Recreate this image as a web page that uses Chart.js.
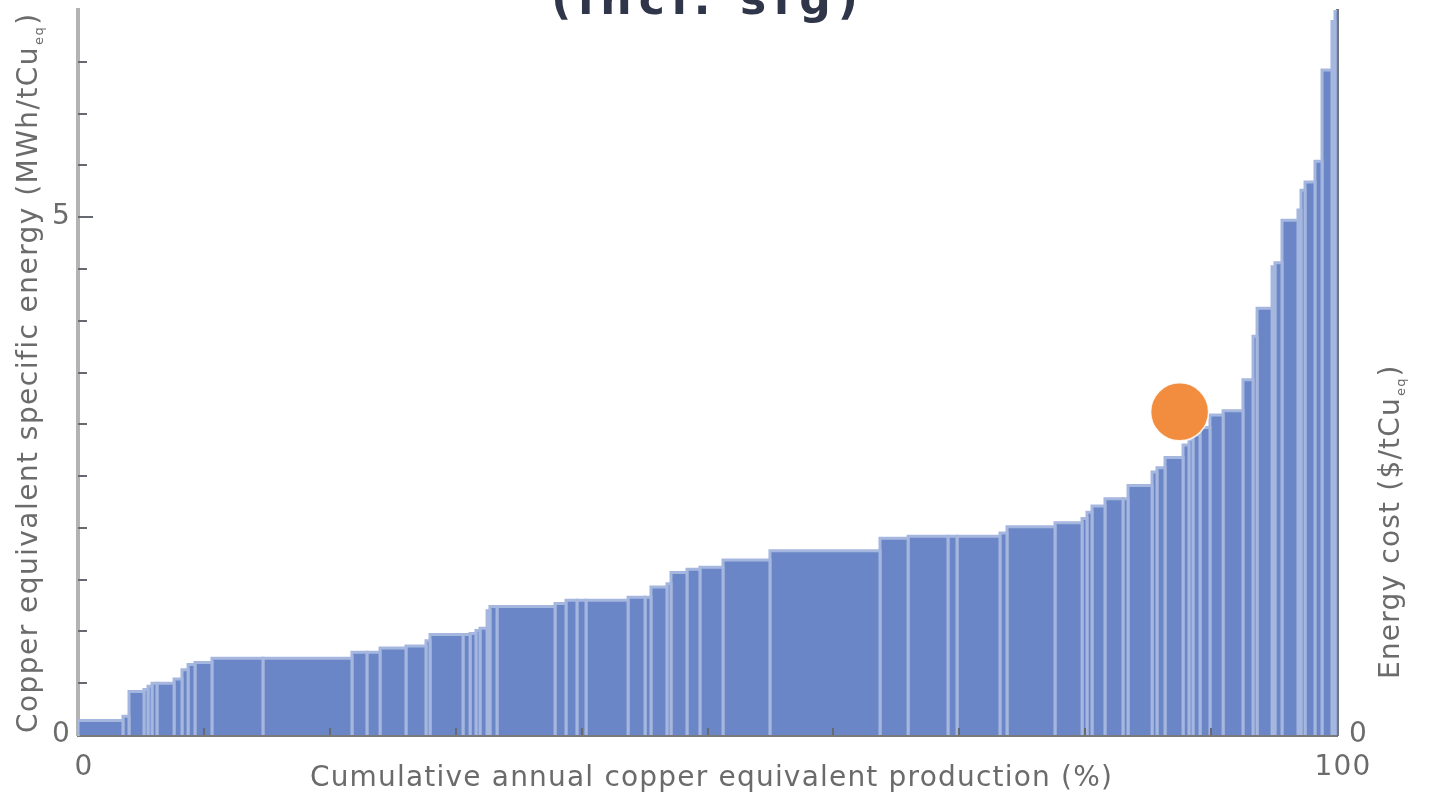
<!DOCTYPE html>
<html>
<head>
<meta charset="utf-8">
<script src="https://cdn.jsdelivr.net/npm/chart.js@4.4.1/dist/chart.umd.min.js"></script>
<style>
  html, body { margin: 0; padding: 0; background: #ffffff; overflow: hidden; }
  canvas { display: block; }
</style>
</head>
<body>
<canvas id="curve" width="1435" height="794"></canvas>
<script>
// Share of annual copper-equivalent production per operation (%), in merit order
const productionShare = [
  3.57, 0.48, 1.19, 0.32, 0.32, 0.39, 1.36, 0.63, 0.48, 0.55,
  1.35, 4.05, 7.07, 1.19, 1.04, 2.06, 1.59, 0.32, 2.62, 0.56,
  0.47, 0.32, 0.56, 0.23, 0.56, 4.61, 0.87, 0.87, 0.72, 3.34,
  1.35, 0.47, 1.27, 0.32, 1.27, 1.03, 1.83, 3.73, 8.74, 2.23,
  3.17, 0.72, 3.41, 0.56, 3.81, 2.15, 0.39, 0.40, 1.03, 1.43,
  0.40, 1.91, 0.39, 0.64, 1.43, 0.47, 0.32, 0.56, 0.79, 1.04,
  1.58, 0.80, 0.32, 1.19, 0.23, 0.56, 1.27, 0.24, 0.32, 0.79,
  0.56, 0.79, 0.24, 0.16
];
// Specific energy of each operation (MWh/tCu eq)
const specificEnergy = [
  0.14, 0.18, 0.42, 0.44, 0.47, 0.50, 0.50, 0.54, 0.63, 0.68,
  0.70, 0.74, 0.74, 0.80, 0.80, 0.84, 0.86, 0.91, 0.97, 0.97,
  0.98, 1.01, 1.03, 1.20, 1.24, 1.24, 1.27, 1.30, 1.30, 1.30,
  1.33, 1.33, 1.43, 1.46, 1.57, 1.60, 1.62, 1.69, 1.78, 1.90,
  1.92, 1.92, 1.92, 1.95, 2.01, 2.05, 2.09, 2.15, 2.21, 2.28,
  2.28, 2.41, 2.54, 2.58, 2.68, 2.80, 2.85, 2.90, 2.97, 3.09,
  3.13, 3.43, 3.85, 4.12, 4.52, 4.56, 4.97, 5.07, 5.26, 5.34,
  5.54, 6.42, 6.89, 7.00
];
// Highlighted operation
const highlightShare = [87.5];
const highlightEnergy = [3.12];

const energyPrice = 243.3;      // USD per MWh, links the two vertical axes
const energyMax = 7;
const shareLabels = [0, 100];
const energyLabels = [0, 5];
const costLabels = [0, 1000];

const chartTitle = '(incl. sfg)';
const xTitle = 'Cumulative annual copper equivalent production (%)';
const yTitle = ['Copper equivalent specific energy (MWh/tCu', 'eq', ')'];
const y2Title = ['Energy cost ($/tCu', 'eq', ')'];

const FONT = '"DejaVu Sans", sans-serif';
const TEXT = '#6b6b6b';
const BAR_FILL = '#6a86c6';
const BAR_EDGE = '#a6b7df';

// One filled outline per operation: width = production share, height = energy
let cum = 0;
const barSets = productionShare.map((w, i) => {
  const x0 = cum, x1 = cum + w;
  cum = x1;
  const h = specificEnergy[i];
  return {
    data: [{x: x0, y: 0}, {x: x0, y: h}, {x: x1, y: h}, {x: x1, y: 0}],
    showLine: true,
    fill: 'origin',
    backgroundColor: BAR_FILL,
    borderColor: BAR_EDGE,
    borderWidth: 3,
    borderJoinStyle: 'miter',
    pointRadius: 0,
    pointHoverRadius: 0,
    tension: 0,
    yAxisID: 'y',
    order: 1
  };
});

const highlightSet = {
  data: highlightShare.map((x, i) => ({x, y: highlightEnergy[i]})),
  pointRadius: 29,
  pointHoverRadius: 29,
  backgroundColor: '#f28d3f',
  borderColor: 'rgba(255,255,255,0.85)',
  borderWidth: 1.5,
  yAxisID: 'y',
  order: 0
};

// Inward tick marks, axis titles with subscripts and the heading
const decor = {
  id: 'decor',
  beforeDraw(chart) {
    chart.ctx.letterSpacing = '1.2px';
  },
  afterDraw(chart) {
    const ctx = chart.ctx;
    const {x, y, y2} = chart.scales;
    const area = chart.chartArea;
    ctx.save();
    ctx.strokeStyle = '#666a70';
    ctx.lineWidth = 2;
    ctx.beginPath();
    y.ticks.forEach(t => {
      if (t.value <= 0 || t.value >= y.max) return;
      const py = Math.round(y.getPixelForValue(t.value));
      const len = energyLabels.includes(t.value) ? 15 : 9;
      ctx.moveTo(area.left, py); ctx.lineTo(area.left + len, py);
    });
    y2.ticks.forEach(t => {
      if (t.value <= 0 || t.value % 100 !== 0) return;
      const py = Math.round(y2.getPixelForValue(t.value));
      const len = costLabels.includes(t.value) ? 15 : 8;
      ctx.moveTo(area.right, py); ctx.lineTo(area.right - len, py);
    });
    x.ticks.forEach(t => {
      if (t.value <= 0 || t.value >= 100) return;
      const px = Math.round(x.getPixelForValue(t.value));
      ctx.moveTo(px, area.bottom); ctx.lineTo(px, area.bottom - 7);
    });
    ctx.stroke();

    ctx.fillStyle = TEXT;
    ctx.letterSpacing = '1.2px';
    ctx.textBaseline = 'alphabetic';

    // x-axis title
    ctx.font = '28px ' + FONT;
    ctx.textAlign = 'center';
    ctx.fillText(xTitle, (area.left + area.right) / 2 + 4, 786);

    // rotated titles reading upward, with subscript
    const rotated = (parts, bx, by, spacing) => {
      ctx.save();
      ctx.letterSpacing = spacing;
      ctx.translate(bx, by);
      ctx.rotate(-Math.PI / 2);
      ctx.textAlign = 'left';
      ctx.font = '28px ' + FONT;
      ctx.fillText(parts[0], 0, 0);
      let w = ctx.measureText(parts[0]).width;
      ctx.font = '13px ' + FONT;
      ctx.fillText(parts[1], w + 1, 6);
      w += ctx.measureText(parts[1]).width + 2;
      ctx.font = '28px ' + FONT;
      ctx.fillText(parts[2], w, 0);
      ctx.restore();
    };
    rotated(yTitle, 37, 733, '1.45px');
    rotated(y2Title, 1399, 679, '1.2px');

    // heading, running off the top edge
    ctx.fillStyle = '#2f3649';
    ctx.font = 'bold 44px ' + FONT;
    ctx.letterSpacing = '7px';
    ctx.textAlign = 'center';
    ctx.fillText(chartTitle, 708, 14);
    ctx.restore();
  }
};

// vertical axes: fixed width, no extra room reserved above/below for labels
const fixVertical = width => s => {
  s.width = width;
  s.paddingTop = 0;
  s.paddingBottom = 0;
};

new Chart(document.getElementById('curve'), {
  type: 'scatter',
  data: { datasets: [highlightSet, ...barSets] },
  options: {
    responsive: false,
    animation: false,
    devicePixelRatio: 1,
    layout: { autoPadding: false, padding: { top: 10, left: 0, right: 0, bottom: 0 } },
    plugins: {
      legend: { display: false },
      tooltip: { enabled: false },
      title: { display: false }
    },
    scales: {
      x: {
        type: 'linear',
        min: 0, max: 100,
        z: 1,
        grid: { display: false, drawTicks: false },
        border: { display: true, color: '#7a7a7a', width: 3 },
        ticks: {
          stepSize: 10,
          autoSkip: false,
          maxRotation: 0,
          padding: 16,
          labelOffset: 6,
          color: TEXT,
          font: { family: FONT, size: 28 },
          callback: v => shareLabels.includes(v) ? String(v) : ''
        },
        afterFit: s => { s.height = 59; }
      },
      y: {
        type: 'linear',
        position: 'left',
        min: 0, max: energyMax,
        z: 1,
        grid: { display: false, drawTicks: false },
        border: { display: true, color: '#b3b3b3', width: 4 },
        ticks: {
          stepSize: 0.5,
          autoSkip: false,
          padding: 7,
          color: TEXT,
          font: { family: FONT, size: 28, lineHeight: 0.4 },
          callback: v => energyLabels.includes(v) ? String(v) : ''
        },
        afterFit: fixVertical(78)
      },
      y2: {
        type: 'linear',
        position: 'right',
        min: 0, max: energyMax * energyPrice,
        z: 1,
        grid: { display: false, drawTicks: false },
        border: { display: true, color: '#70757f', width: 3 },
        ticks: {
          stepSize: 100,
          autoSkip: false,
          padding: 12,
          color: TEXT,
          font: { family: FONT, size: 28, lineHeight: 0.4 },
          callback: v => costLabels.includes(v) ? String(v) : ''
        },
        afterFit: fixVertical(98)
      }
    }
  },
  plugins: [decor]
});
</script>
</body>
</html>
